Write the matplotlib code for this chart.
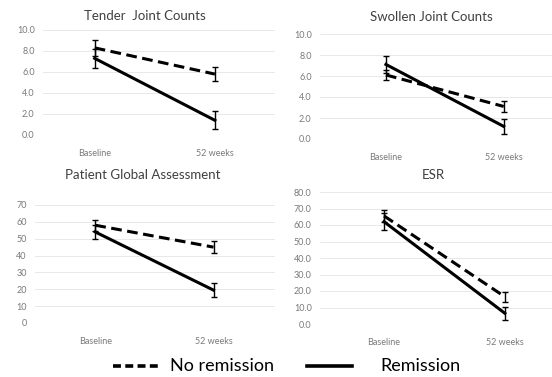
import matplotlib.pyplot as plt
from matplotlib.lines import Line2D

plt.rcParams['font.family'] = ['Lato', 'DejaVu Sans']

W, H = 552, 377

timepoints = ['Baseline', '52 weeks']
titles = ['Tender  Joint Counts', 'Swollen Joint Counts', 'Patient Global Assessment', 'ESR']

# means and error bar half-widths
no_rem = [[8.3, 5.8], [6.1, 3.1], [58, 45], [65.5, 16.5]]
no_rem_err = [[0.75, 0.65], [0.5, 0.55], [3.3, 3.6], [3.5, 3.0]]
rem = [[7.3, 1.4], [7.1, 1.2], [54, 19.5], [62, 6.5]]
rem_err = [[0.9, 0.85], [0.85, 0.7], [3.9, 4.1], [5.0, 4.0]]

y_max = [10, 10, 70, 80]
y_step = [2, 2, 10, 10]
y_fmt = ['{:.1f}', '{:.1f}', '{:.0f}', '{:.1f}']

# axes boxes in pixels: left, right, top(ymax line), bottom(0 line)
boxes = [(43, 275, 30, 135), (320, 552, 34, 139), (35, 275, 205, 323), (320, 552, 192, 324)]
xlims = [(-0.43, 1.5), (-0.56, 1.41), (-0.51, 1.52), (-0.53, 1.39)]
title_pos = [(145, 16), (431, 17), (143, 175), (433, 175)]

fig = plt.figure(figsize=(W / 100, H / 100), dpi=100)

for i in range(4):
    l, r, t, b = boxes[i]
    ax = fig.add_axes([l / W, 1 - b / H, (r - l) / W, (b - t) / H])
    x = [0, 1]
    ax.errorbar(x, no_rem[i], yerr=no_rem_err[i], color='black', lw=2.2,
                ls=(0, (3.5, 1.8)), capsize=2.5, elinewidth=1, capthick=1, zorder=3)
    ax.errorbar(x, rem[i], yerr=rem_err[i], color='black', lw=2.2,
                capsize=2.5, elinewidth=1, capthick=1, zorder=3)
    ax.set_xlim(*xlims[i])
    ax.set_ylim(0, y_max[i])
    ticks = list(range(0, y_max[i] + 1, y_step[i]))
    ax.set_yticks(ticks)
    ax.set_yticklabels([y_fmt[i].format(v) for v in ticks])
    ax.set_xticks(x)
    ax.set_xticklabels(timepoints)
    ax.tick_params(length=0, labelsize=6.5, colors='#7a7a7a')
    ax.tick_params(axis='x', pad=10)
    ax.tick_params(axis='y', pad=6)
    ax.grid(axis='y', color='#e4e4e4', lw=0.6)
    ax.set_axisbelow(True)
    for s in ax.spines.values():
        s.set_visible(False)
    fig.text(title_pos[i][0] / W, 1 - title_pos[i][1] / H, titles[i],
             ha='center', va='center', fontsize=9.5, color='#404040')

# legend drawn along the bottom
ly = 1 - 366 / H
fig.add_artist(Line2D([113 / W, 160 / W], [ly, ly], color='black', lw=2.6,
                      ls=(0, (2.2, 1.2))))
fig.text(170 / W, ly, 'No remission', ha='left', va='center', fontsize=13, color='black')
fig.add_artist(Line2D([307 / W, 352 / W], [ly, ly], color='black', lw=2.6))
fig.text(380 / W, ly, 'Remission', ha='left', va='center', fontsize=13, color='black')

plt.savefig('out.png', dpi=100)
